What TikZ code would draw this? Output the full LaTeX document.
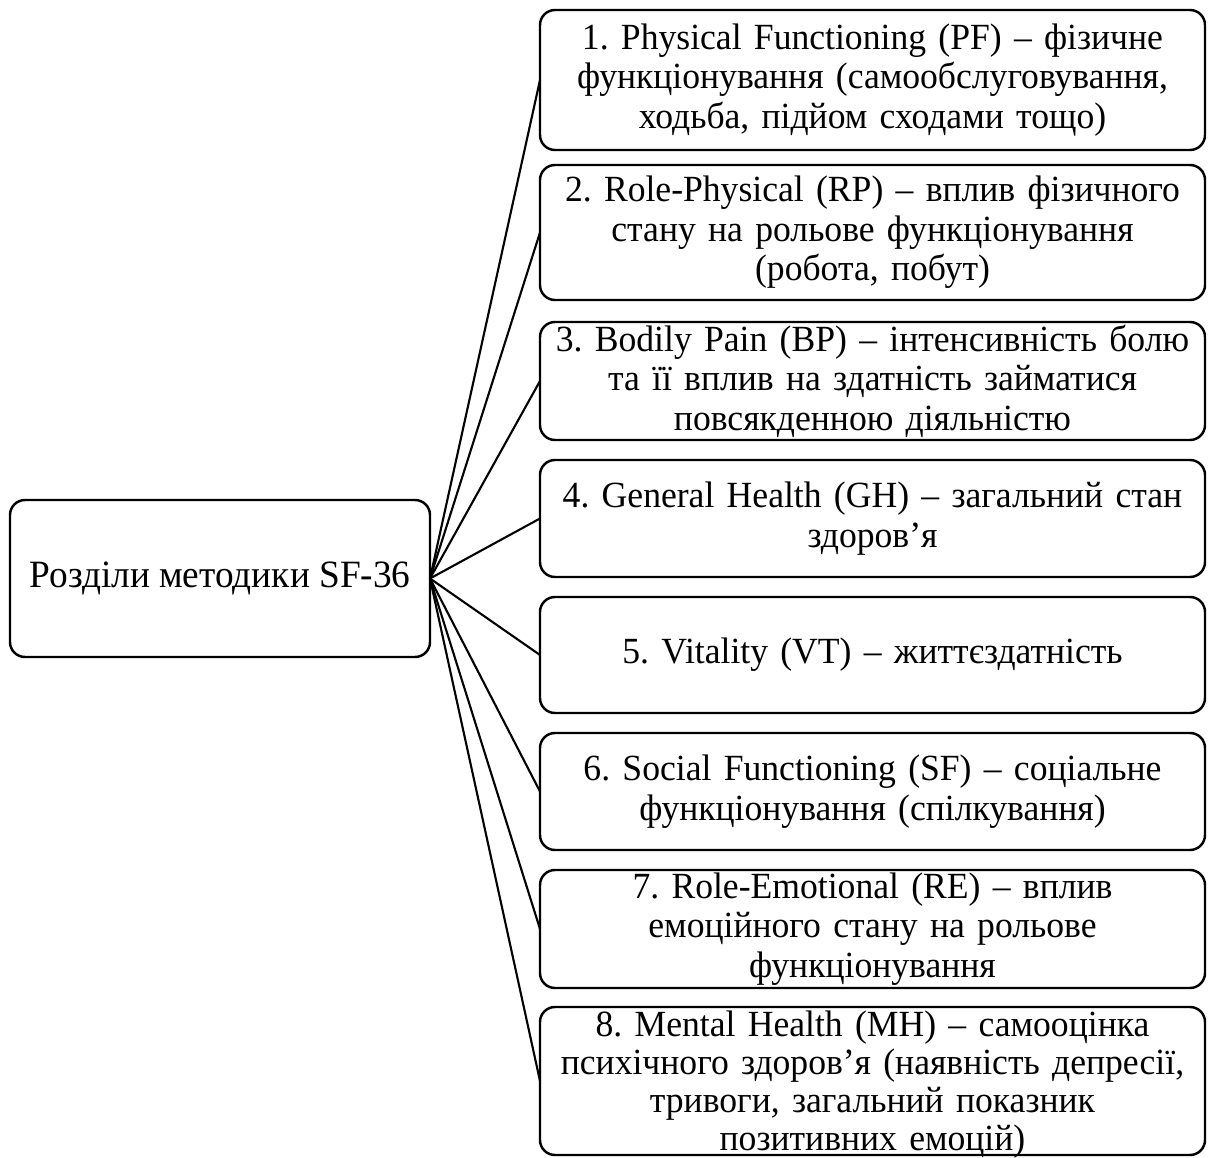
\documentclass[tikz,border=0pt]{standalone}
\usepackage{fontspec}
\setmainfont{Liberation Serif}[FakeStretch=0.965]
\usetikzlibrary{positioning}
\frenchspacing
\tikzstyle{part} = [rectangle, draw, rounded corners=3mm, line width=1.4pt, text width=13.1cm, minimum width=13.3cm, align=center, inner xsep=1pt, inner ysep=0pt, outer sep=0pt]
\tikzstyle{root} = [rectangle, draw, rounded corners=3mm, line width=1.4pt, minimum width=8.4cm, minimum height=3.14cm, align=center, outer sep=0pt, font=\fontsize{22}{24}\selectfont]
\tikzstyle{link} = [draw, line width=1.2pt]

\begin{document}
\begin{tikzpicture}[node distance=0.4cm, font=\fontsize{21}{22.4}\selectfont]

    \useasboundingbox (0,0) rectangle (24.16,-23.16);

    \node[root] (sf36) at (4.4,-11.57) {Розділи методики SF-36};

    \node[part, minimum height=2.8cm, anchor=north west] (pf) at (10.8,-0.2)
        {1. Physical Functioning (PF) – фізичне\\ функціонування (самообслуговування,\\ ходьба, підйом сходами тощо)};
    \node[part, minimum height=2.7cm, below=0.3cm of pf] (rp)
        {2. Role-Physical (RP) – вплив фізичного\\ стану на рольове функціонування\\ (робота, побут)};
    \node[part, minimum height=2.36cm, below=0.44cm of rp, inner ysep=-1pt] (bp)
        {3. Bodily Pain (BP) – інтенсивність болю\\ та її вплив на здатність займатися\\ повсякденною діяльністю};
    \node[part, minimum height=2.34cm, below=of bp] (gh)
        {4. General Health (GH) – загальний стан\\ здоров’я};
    \node[part, minimum height=2.32cm, below=of gh] (vt)
        {5. Vitality (VT) – життєздатність};
    \node[part, minimum height=2.34cm, below=of vt] (sf)
        {6. Social Functioning (SF) – соціальне\\ функціонування (спілкування)};
    \node[part, minimum height=2.36cm, below=of sf, inner ysep=-1pt] (re)
        {7. Role-Emotional (RE) – вплив\\ емоційного стану на рольове\\ функціонування};
    \node[part, minimum height=2.96cm, below=0.38cm of re, text depth=65pt,
          font=\fontsize{21}{21.6}\selectfont] (mh)
        {8. Mental Health (MH) – самооцінка\\ психічного здоров’я (наявність депресії,\\ тривоги, загальний показник\\ позитивних емоцій)};

    \foreach \p in {pf,rp,bp,gh,vt,sf,re,mh}
        \path[link] (sf36.east) -- (\p.west);

\end{tikzpicture}
\end{document}
